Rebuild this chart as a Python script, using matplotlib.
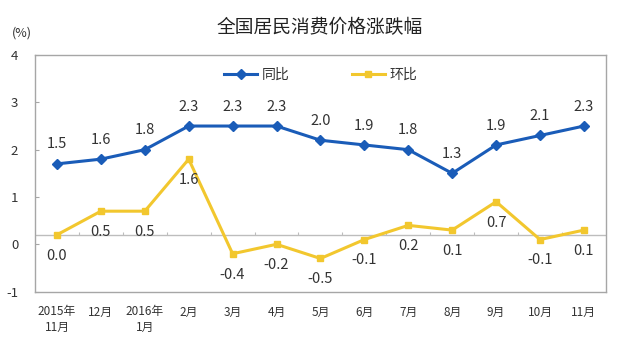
import numpy as np
import matplotlib.pyplot as plt

plt.rcParams['font.family'] = ['Noto Sans CJK SC', 'DejaVu Sans']

months = ['2015年\n11月', '12月', '2016年\n1月', '2月', '3月', '4月', '5月',
          '6月', '7月', '8月', '9月', '10月', '11月']
yoy = [1.5, 1.6, 1.8, 2.3, 2.3, 2.3, 2.0, 1.9, 1.8, 1.3, 1.9, 2.1, 2.3]
mom = [0.0, 0.5, 0.5, 1.6, -0.4, -0.2, -0.5, -0.1, 0.2, 0.1, 0.7, -0.1, 0.1]
ytick_labels = ['-1', '0', '1', '2', '3', '4']

blue = '#1a5cb8'
yellow = '#f2c72e'
frame = '#a6a6a6'
text_c = '#333333'


def main():
    fig = plt.figure(figsize=(6.4, 3.6), dpi=100)
    ax = fig.add_axes([0.0547, 0.19, 0.892, 0.657])
    x = np.arange(len(months))

    ax.axhline(0, color='#bdbdbd', lw=1.0, zorder=1)
    ax.vlines(x[:-1] + 0.5, 0, 0.07, color='#bdbdbd', lw=0.8, zorder=1)

    ax.plot(x, yoy, color=blue, lw=2.2, marker='D', ms=5, label='同比', zorder=3)
    ax.plot(x, mom, color=yellow, lw=2.2, marker='s', ms=5, label='环比', zorder=3)

    for xi, v in zip(x, yoy):
        ax.annotate(f'{v:.1f}', (xi, v), xytext=(0, 14), textcoords='offset points',
                    ha='center', va='center', fontsize=10.5, color=text_c)
    for xi, v in zip(x, mom):
        ax.annotate(f'{v:.1f}', (xi, v), xytext=(0, -15), textcoords='offset points',
                    ha='center', va='center', fontsize=10.5, color=text_c)

    ax.set_xlim(-0.5, len(months) - 0.5)
    ax.set_ylim(-1.2, 3.8)
    ax.set_yticks(np.arange(-1.2, 3.81, 1.0))
    ax.set_yticklabels(ytick_labels)
    ax.set_xticks(x)
    ax.set_xticklabels(months, fontsize=8.5, color=text_c, linespacing=1.2)
    ax.tick_params(axis='x', length=0, pad=10)
    ax.tick_params(axis='y', direction='in', length=3, color=frame, pad=12,
                   labelsize=9.5, labelcolor=text_c)
    for s in ax.spines.values():
        s.set_color(frame)
        s.set_linewidth(1.0)

    ax.legend(loc='upper center', bbox_to_anchor=(0.5, 1.0), ncol=2, frameon=False,
              fontsize=10, handlelength=2.4, handletextpad=0.3, columnspacing=4.5,
              labelcolor=text_c)

    fig.text(0.5, 0.922, '全国居民消费价格涨跌幅', ha='center', va='center',
             fontsize=13.5, color='#222222')
    fig.text(0.034, 0.908, '(%)', ha='center', va='center', fontsize=9, color=text_c)

    fig.savefig('out.png', dpi=100)


if __name__ == '__main__':
    main()
